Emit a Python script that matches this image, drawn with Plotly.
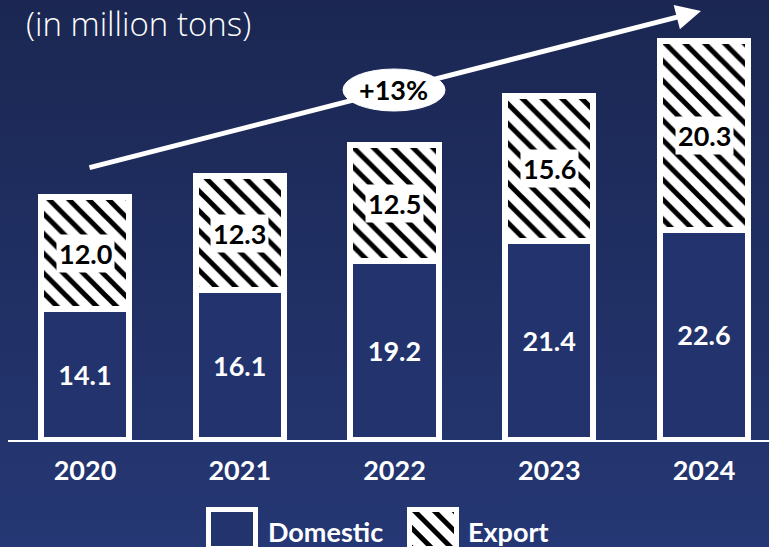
import base64
import plotly.graph_objects as go

# Fish catch split by destination, in million tons
years = ["2020", "2021", "2022", "2023", "2024"]
domestic = [14.1, 16.1, 19.2, 21.4, 22.6]
export = [12.0, 12.3, 12.5, 15.6, 20.3]
series_names = ["Domestic", "Export"]
growth_label = "+13%"
unit_label = "(in million tons)"

NAVY = "#22336d"
LABEL_FONT = "Lato"
W, H = 769, 547


def svg_uri(svg):
    return "data:image/svg+xml;base64," + base64.b64encode(svg.encode()).decode()


def px(x):
    return x / W


def py(y):
    return 1 - y / H


fig = go.Figure()

fig.add_bar(
    x=years, y=domestic, name=series_names[0],
    marker=dict(color=NAVY, line=dict(color="white", width=6)),
    width=0.57,
    text=[f"{v:.1f}" for v in domestic],
    textposition="inside", insidetextanchor="middle", textangle=0,
    constraintext="none",
    textfont=dict(family=LABEL_FONT, size=27, color="white", weight="bold"),
)
fig.add_bar(
    x=years, y=export, name=series_names[1],
    marker=dict(
        color="white",
        line=dict(color="white", width=6),
        pattern=dict(shape="\\", fgcolor="black", bgcolor="white",
                     fgopacity=1, size=14, solidity=0.36),
    ),
    width=0.57,
)

# Export values sit on a white patch in the middle of the hatched segment
for i, (d, e) in enumerate(zip(domestic, export)):
    fig.add_annotation(
        x=i, y=d + e / 2, xref="x", yref="y",
        xanchor="center", yanchor="middle",
        text=f"<b>{e:.1f}</b>", showarrow=False,
        bgcolor="white", borderpad=2,
        font=dict(family=LABEL_FONT, size=27, color="black"),
    )

# Growth arrow across the bars
fig.add_annotation(
    x=px(701), y=py(11), xref="paper", yref="paper",
    ax=-613, ay=157, axref="pixel", ayref="pixel",
    text="", showarrow=True, arrowhead=2, arrowsize=1.0,
    arrowwidth=5, arrowcolor="white", standoff=0, startstandoff=0,
)
fig.add_shape(
    type="circle", xref="paper", yref="paper",
    x0=px(343), x1=px(445), y0=py(111), y1=py(69),
    fillcolor="white", line=dict(color="white", width=1), layer="above",
)
fig.add_annotation(
    x=px(394), y=py(90), xref="paper", yref="paper",
    xanchor="center", yanchor="middle",
    text=f"<b>{growth_label}</b>", showarrow=False,
    font=dict(family=LABEL_FONT, size=27, color="black"),
)

fig.add_annotation(
    x=px(25), y=1, xref="paper", yref="paper",
    xanchor="left", yanchor="top", borderpad=0,
    text=unit_label, showarrow=False,
    font=dict(family="Open Sans", size=33, color="white", weight=300),
)

# Vertical navy gradient behind everything
bg_svg = (
    '<svg xmlns="http://www.w3.org/2000/svg" width="10" height="100" '
    'preserveAspectRatio="none">'
    '<defs><linearGradient id="g" x1="0" y1="0" x2="0" y2="1">'
    '<stop offset="0" stop-color="#1b2752"/>'
    '<stop offset="1" stop-color="#253774"/>'
    '</linearGradient></defs>'
    '<rect width="10" height="100" fill="url(#g)"/></svg>'
)
fig.add_layout_image(
    source=svg_uri(bg_svg), xref="paper", yref="paper", x=0, y=1,
    sizex=1, sizey=1, xanchor="left", yanchor="top",
    sizing="stretch", layer="below",
)

# Legend: large swatches with labels along the bottom edge
dom_swatch = (
    '<svg xmlns="http://www.w3.org/2000/svg" width="52" height="44">'
    f'<rect x="2.5" y="2.5" width="47" height="39" fill="{NAVY}" '
    'stroke="white" stroke-width="5"/></svg>'
)
exp_swatch = (
    '<svg xmlns="http://www.w3.org/2000/svg" width="52" height="44">'
    '<defs><pattern id="h" width="14" height="14" patternUnits="userSpaceOnUse" '
    'patternTransform="rotate(-45)">'
    '<rect width="14" height="14" fill="white"/>'
    '<rect x="0" y="0" width="5" height="14" fill="black"/></pattern></defs>'
    '<rect x="0" y="0" width="52" height="44" fill="white"/>'
    '<rect x="5" y="5" width="42" height="34" fill="url(#h)"/></svg>'
)
for src, x0 in [(dom_swatch, 206), (exp_swatch, 407)]:
    fig.add_layout_image(
        source=svg_uri(src), xref="paper", yref="paper",
        x=px(x0), y=py(507), sizex=px(52), sizey=44 / H,
        xanchor="left", yanchor="top", sizing="stretch", layer="above",
    )
for name, x0 in zip(series_names, [266, 466]):
    fig.add_annotation(
        x=px(x0), y=py(531), xref="paper", yref="paper",
        xanchor="left", yanchor="middle",
        text=f"<b>{name}</b>", showarrow=False,
        font=dict(family=LABEL_FONT, size=27, color="white"),
    )

fig.update_layout(
    width=W, height=H, autosize=False,
    margin=dict(l=0, r=0, t=0, b=0),
    paper_bgcolor="rgba(0,0,0,0)", plot_bgcolor="rgba(0,0,0,0)",
    barmode="stack",
    showlegend=False,
    xaxis=dict(
        domain=[px(8), 1], range=[-0.4976, 4.42], type="category",
        showgrid=False, showline=True, linecolor="white", linewidth=2,
        ticks="", zeroline=False, ticklabelstandoff=6,
        tickfont=dict(family="Lato", size=27, color="white", weight="bold"),
    ),
    yaxis=dict(
        domain=[107 / H, 1], range=[0, 47.3],
        visible=False, showgrid=False, zeroline=False,
    ),
)

fig.write_html("out.html")
